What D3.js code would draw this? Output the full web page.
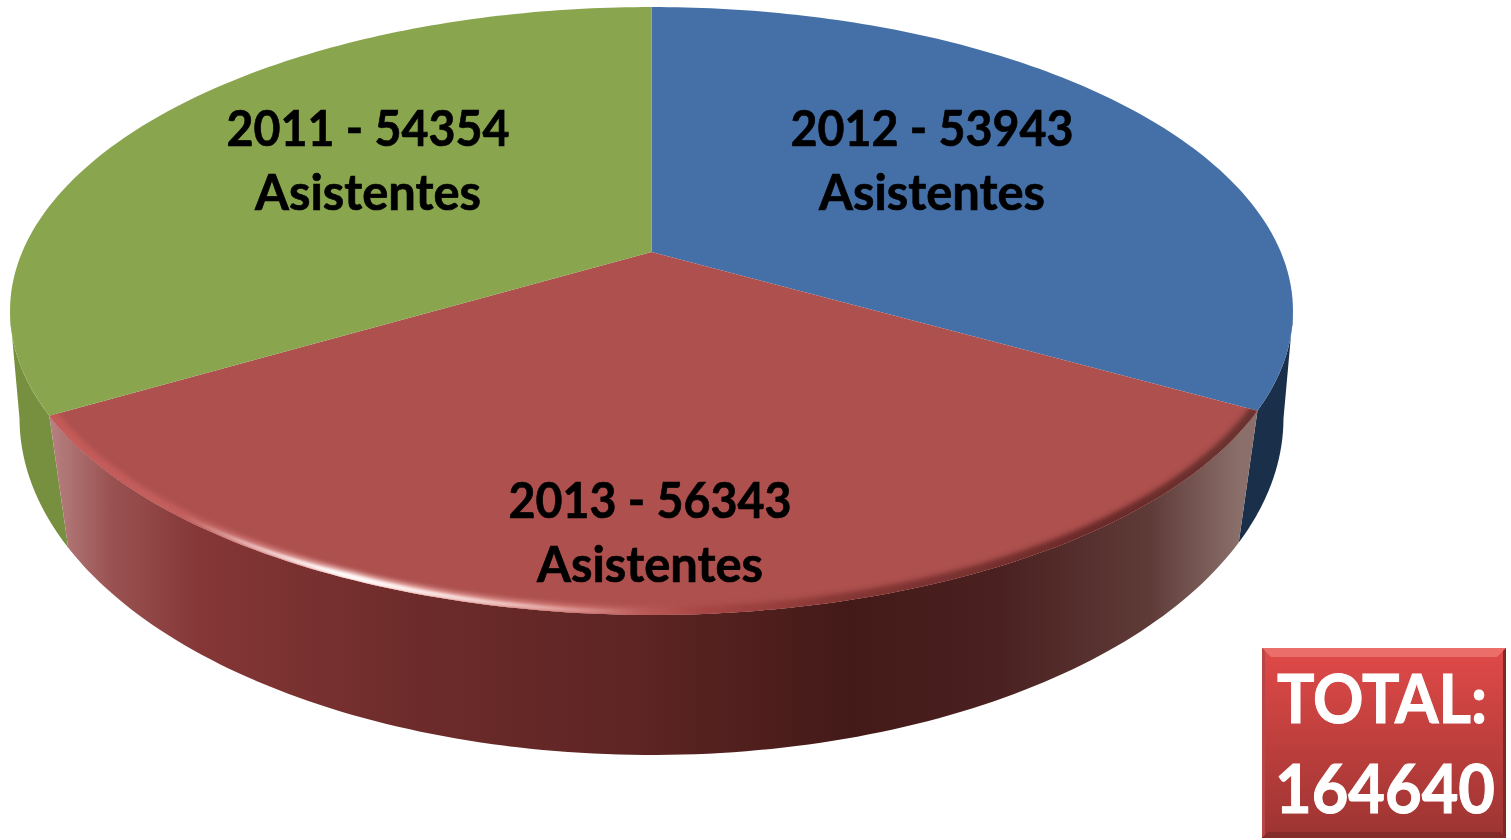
<!DOCTYPE html>
<html>
<head>
<meta charset="utf-8">
<script src="https://cdn.jsdelivr.net/npm/d3@7/dist/d3.min.js"></script>
<style>
  html, body { margin: 0; padding: 0; background: #fff; }
  svg { display: block; font-family: Lato, "Open Sans", sans-serif; font-weight: 700; }
</style>
</head>
<body>
<svg id="chart" width="1511" height="840"></svg>
<script>
// slices run clockwise from 12 o'clock
const years = ['2012', '2013', '2011']
const attendees = [53943, 56343, 54354]
const unit = 'Asistentes'
const totalLabel = 'TOTAL:'
const totalValue = d3.sum(attendees)

const topColors = ['#4470a7', '#ad504e', '#89a54e']
const wallColors = ['#1a2f4a', 'url(#wallRed)', '#769040']

const width = 1511
const height = 840
const svg = d3.select('#chart').attr('viewBox', `0 0 ${width} ${height}`)

// perspective: unit circle -> page, upper rim and lower rim have their own fit
const cx = 651.5
const disc = (theta, k, A, B, y0) => {
  const u = Math.sin(theta)
  const v = -Math.cos(theta)
  const w = 1 + k * v
  return [cx + A * u / w, y0 + B * v / w]
}
// the renderer squeezes the view a bit, so angles drift slightly towards the sides
const skew = 0.0305
const upper = theta => disc(theta - skew * Math.sin(2 * theta), -0.194, 629.3, 292.5, 252)
const lower = theta => disc(theta, -0.12, 627.4, 332.1, 377.6)

const pie = d3.pie().sort(null).value(d => d)
const slices = pie(attendees)

const line = d3.line()
const sweep = (a0, a1) => d3.range(0, 121).map(i => a0 + (a1 - a0) * i / 120)

const defs = svg.append('defs')

// horizontal shading of the front wall
const wallStops = [
  [52, '#b67f7f'], [110, '#9a5352'], [200, '#843736'], [400, '#6e2c2b'],
  [650, '#5c2423'], [850, '#431a18'], [1000, '#4a2120'], [1150, '#5f3b38'], [1240, '#8a6f6b']
]
const wallX = d3.scaleLinear().domain([52, 1240]).range([0, 100])
defs.append('linearGradient').attr('id', 'wallRed')
  .attr('gradientUnits', 'userSpaceOnUse')
  .attr('x1', 52).attr('x2', 1240).attr('y1', 0).attr('y2', 0)
  .selectAll('stop').data(wallStops).enter().append('stop')
  .attr('offset', d => wallX(d[0]) + '%')
  .attr('stop-color', d => d[1])

// rim highlight on the red slice
const rimStops = [
  [52, '#c45a58'], [200, '#c2605e'], [280, '#dc8f8c'], [350, '#fbdcd9'], [430, '#eeb0ac'],
  [560, '#d47a76'], [700, '#a84644'], [850, '#843634'], [1100, '#6a2a29'], [1250, '#6a3230']
]
const rimX = d3.scaleLinear().domain([52, 1250]).range([0, 100])
defs.append('linearGradient').attr('id', 'rimRed')
  .attr('gradientUnits', 'userSpaceOnUse')
  .attr('x1', 52).attr('x2', 1250).attr('y1', 0).attr('y2', 0)
  .selectAll('stop').data(rimStops).enter().append('stop')
  .attr('offset', d => rimX(d[0]) + '%')
  .attr('stop-color', d => d[1])

const glint = defs.append('linearGradient').attr('id', 'glint')
  .attr('gradientUnits', 'userSpaceOnUse')
  .attr('x1', 180).attr('x2', 640).attr('y1', 0).attr('y2', 0)
glint.append('stop').attr('offset', '0%').attr('stop-color', '#fff').attr('stop-opacity', 0)
glint.append('stop').attr('offset', '35%').attr('stop-color', '#fff').attr('stop-opacity', 1)
glint.append('stop').attr('offset', '100%').attr('stop-color', '#fff').attr('stop-opacity', 0)

defs.append('filter').attr('id', 'soft')
  .attr('x', '-5%').attr('y', '-5%').attr('width', '110%').attr('height', '110%')
  .append('feGaussianBlur').attr('stdDeviation', 2.5)
defs.append('filter').attr('id', 'softer')
  .attr('x', '-5%').attr('y', '-5%').attr('width', '110%').attr('height', '110%')
  .append('feGaussianBlur').attr('stdDeviation', 0.8)

// side walls. they stop where each rim turns back, the gap closes with a straight edge
const wallPath = (a0, topEnd, lowEnd) =>
  line(sweep(a0, topEnd).map(upper).concat(sweep(a0, lowEnd).reverse().map(lower))) + 'Z'
const rad = d3.scaleLinear().domain([0, 180]).range([0, Math.PI])
svg.append('path').attr('d', wallPath(slices[0].endAngle, rad(101), rad(97)))
  .attr('fill', wallColors[0])
svg.append('path').attr('d', wallPath(slices[2].startAngle, rad(259), rad(263)))
  .attr('fill', wallColors[2])
svg.append('path').attr('d', wallPath(slices[1].startAngle, slices[1].endAngle, slices[1].endAngle))
  .attr('fill', wallColors[1])

// top faces
const faceOutline = d => [[cx, 252]].concat(sweep(d.startAngle, d.endAngle).map(upper))
svg.selectAll('path.face').data(slices).enter().append('path')
  .attr('class', 'face')
  .attr('d', d => line(faceOutline(d)) + 'Z')
  .attr('fill', (d, i) => topColors[i])

// bevel of the red slice
defs.append('clipPath').attr('id', 'redClip')
  .append('path').attr('d', line(faceOutline(slices[1])) + 'Z')
const rimPath = line(sweep(slices[1].startAngle, slices[1].endAngle).map(upper))
const bevel = svg.append('g').attr('clip-path', 'url(#redClip)')
bevel.append('path')
  .attr('d', rimPath)
  .attr('fill', 'none')
  .attr('stroke', 'url(#rimRed)')
  .attr('stroke-width', 16)
  .attr('filter', 'url(#soft)')
bevel.append('path')
  .attr('d', line(sweep(slices[1].startAngle, slices[1].endAngle).map(upper).map(p => [p[0], p[1] - 3])))
  .attr('fill', 'none')
  .attr('stroke', 'url(#glint)')
  .attr('stroke-width', 4)
  .attr('filter', 'url(#softer)')

// labels
const labelX = [932, 650, 368]
const labelY = [146, 518, 146]
const labels = svg.selectAll('g.label').data(slices).enter().append('g')
  .attr('class', 'label')
  .attr('text-anchor', 'middle')
  .attr('font-size', 50)
  .attr('fill', '#000')
  .attr('stroke', '#000')
  .attr('stroke-width', 0.7)
labels.append('text')
  .attr('x', (d, i) => labelX[i]).attr('y', (d, i) => labelY[i])
  .attr('textLength', 283).attr('lengthAdjust', 'spacingAndGlyphs')
  .text((d, i) => `${years[i]} - ${d.data}`)
labels.append('text')
  .attr('x', (d, i) => labelX[i]).attr('y', (d, i) => labelY[i] + 64)
  .attr('textLength', 226).attr('lengthAdjust', 'spacingAndGlyphs')
  .text(unit)

// total box
const box = { x: 1262, y: 648, w: 244, h: 190, b: 9 }
const boxGrad = defs.append('linearGradient').attr('id', 'boxFill')
  .attr('x1', 0).attr('x2', 0).attr('y1', 0).attr('y2', 1)
boxGrad.append('stop').attr('offset', '0%').attr('stop-color', '#e04a48')
boxGrad.append('stop').attr('offset', '100%').attr('stop-color', '#9c3432')

const g = svg.append('g')
g.append('rect').attr('x', box.x).attr('y', box.y).attr('width', box.w).attr('height', box.h)
  .attr('fill', 'url(#boxFill)')
const xL = box.x, xR = box.x + box.w, yT = box.y, yB = box.y + box.h, b = box.b
const bevels = [
  [[[xL, yT], [xR, yT], [xR - b, yT + b], [xL + b, yT + b]], '#ec6e6b'],
  [[[xL, yT], [xL + 3, yT + 3], [xL + 3, yB - 3], [xL, yB]], '#b84644'],
  [[[xR, yT], [xR - 3, yT + 3], [xR - 3, yB - 3], [xR, yB]], '#7c2a28'],
  [[[xL, yB], [xR, yB], [xR - 6, yB - 6], [xL + 6, yB - 6]], '#842c2a']
]
g.selectAll('path').data(bevels).enter().append('path')
  .attr('d', d => line(d[0]) + 'Z')
  .attr('fill', d => d[1])
g.append('text').attr('x', 1382).attr('y', 723)
  .attr('text-anchor', 'middle').attr('font-size', 66).attr('fill', '#fff')
  .attr('stroke', '#fff').attr('stroke-width', 1)
  .attr('textLength', 210).attr('lengthAdjust', 'spacingAndGlyphs')
  .text(totalLabel)
g.append('text').attr('x', 1385).attr('y', 813)
  .attr('text-anchor', 'middle').attr('font-size', 66).attr('fill', '#fff')
  .attr('stroke', '#fff').attr('stroke-width', 1)
  .attr('textLength', 220).attr('lengthAdjust', 'spacingAndGlyphs')
  .text(totalValue)
</script>
</body>
</html>
